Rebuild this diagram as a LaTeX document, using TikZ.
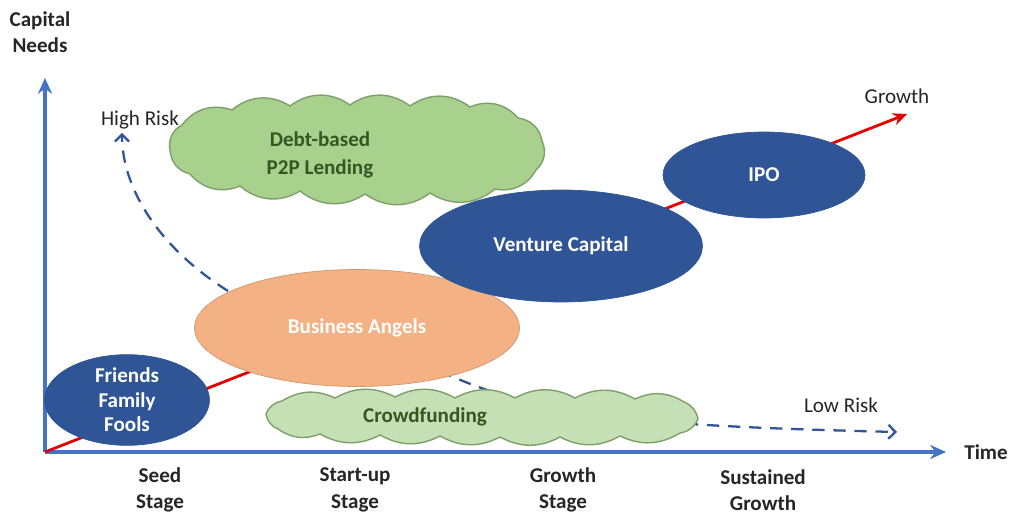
\documentclass[tikz,border=0pt]{standalone}
\usepackage{fontspec}
\setmainfont{Carlito}
\usetikzlibrary{arrows.meta,shapes.geometric}
\definecolor{axisblue}{HTML}{4472C4}
\definecolor{darkblue}{HTML}{2F5597}
\definecolor{angel}{HTML}{F4B183}
\definecolor{p2p}{HTML}{A9D18E}
\definecolor{crowd}{HTML}{C5E0B4}
\definecolor{cloudline}{HTML}{7F9F6A}
\definecolor{dkgreen}{HTML}{375623}
\definecolor{txt}{HTML}{262626}
\tikzset{
  axisline/.style={draw=axisblue,line width=2.2pt,-{Stealth[length=9pt,width=8pt]}},
  redline/.style={draw=red!90!black,line width=1.6pt,-{Stealth[length=8pt,width=7pt]}},
  riskline/.style={draw=darkblue,line width=1.3pt,dash pattern=on 7pt off 5pt,-{Straight Barb[length=4pt,width=8pt]}},
  blueell/.style={ellipse,fill=darkblue,draw=darkblue,text=white,font=\bfseries\fontsize{12}{14}\selectfont,align=center,inner sep=0pt},
  angelell/.style={ellipse,fill=angel,draw=angel!85!black,text=white,font=\bfseries\fontsize{12}{14}\selectfont,inner sep=0pt},
  cloudpath/.style={draw=cloudline,line width=0.8pt,line join=round},
  pf/.style={bend left=36},
  pc/.style={bend left=28},
  cloudtext/.style={font=\bfseries\fontsize{12}{16}\selectfont,text=dkgreen,align=center},
  lbl/.style={text=txt,font=\fontsize{12}{14}\selectfont,align=center},
  blbl/.style={text=txt,font=\bfseries\fontsize{12}{15}\selectfont,align=center}
}
\begin{document}
\begin{tikzpicture}[x=0.02cm,y=-0.02cm]
\useasboundingbox[fill=white] (0,0) rectangle (1016,516);
% axes
\coordinate (o) at (45,452);
\coordinate (ytip) at (45,78);
\coordinate (xtip) at (946,452);
\coordinate (gtip) at (907,114);
\draw[axisline] (o) -- (ytip);
\draw[axisline] (o) -- (xtip);
% risk curves (under shapes)
\coordinate (hrs) at (228,291);
\coordinate (hre) at (122,133);
\coordinate (lrs) at (440,371);
\coordinate (lre) at (897,432);
\draw[riskline] (hrs) .. controls (155,245) and (122,185) .. (hre);
\draw[riskline] (lrs) .. controls (540,418) and (650,426) .. (lre);
% growth line
\draw[redline] (o) -- (gtip);
% P2P cloud
\path[cloudpath,fill=p2p] (182,125) to[pf] (232,110) to[pf] (290,106) to[pf] (350,105)
  to[pf] (410,106) to[pf] (470,107) to[pf] (518,118) to[pf] (542,141) to[pf] (536,170)
  to[pf] (495,189) to[pf] (430,193) to[pf] (365,194) to[pf] (300,191) to[pf] (240,186)
  to[pf] (190,174) to[pf] (170,150) to[pf] (182,125) -- cycle;
\node[cloudtext] (p2pt) at (320,155) {Debt-based\\P2P Lending};
% Crowdfunding cloud
\path[cloudpath,fill=crowd] (282,401) to[pc] (335,398) to[pc] (395,397) to[pc] (455,398)
  to[pc] (515,398) to[pc] (575,398) to[pc] (635,399) to[pc] (684,402) to[pc] (698,419)
  to[pc] (680,433) to[pc] (620,436) to[pc] (560,437) to[pc] (500,437) to[pc] (440,436)
  to[pc] (380,435) to[pc] (320,434) to[pc] (278,429) to[pc] (266,414) to[pc] (282,401) -- cycle;
\node[cloudtext] (crowdt) at (425,417) {Crowdfunding};
% ellipses
\node[angelell,minimum width=6.5cm,minimum height=2.34cm] (ba) at (357,328) {Business Angels};
\node[blueell,minimum width=3.3cm,minimum height=1.68cm] (fff) at (127,400) {Friends\\Family\\Fools};
\node[blueell,minimum width=5.66cm,minimum height=2.24cm] (vc) at (561,246) {Venture Capital};
\node[blueell,minimum width=4.04cm,minimum height=1.72cm] (ipo) at (764,175) {IPO};
% labels
\node[blbl] (capn) at (40,32) {Capital\\Needs};
\node[blbl] (time) at (986,452) {Time};
\node[lbl] (hr) at (140,120) {High Risk};
\node[lbl] (lr) at (841,405) {Low Risk};
\node[lbl] (gr) at (897,96) {Growth};
\node[blbl] (s1) at (160,490) {Seed\\Stage};
\node[blbl] (s2) at (355,490) {Start-up\\Stage};
\node[blbl] (s3) at (563,490) {Growth\\Stage};
\node[blbl] (s4) at (763,490) {Sustained\\Growth};
\end{tikzpicture}
\end{document}
